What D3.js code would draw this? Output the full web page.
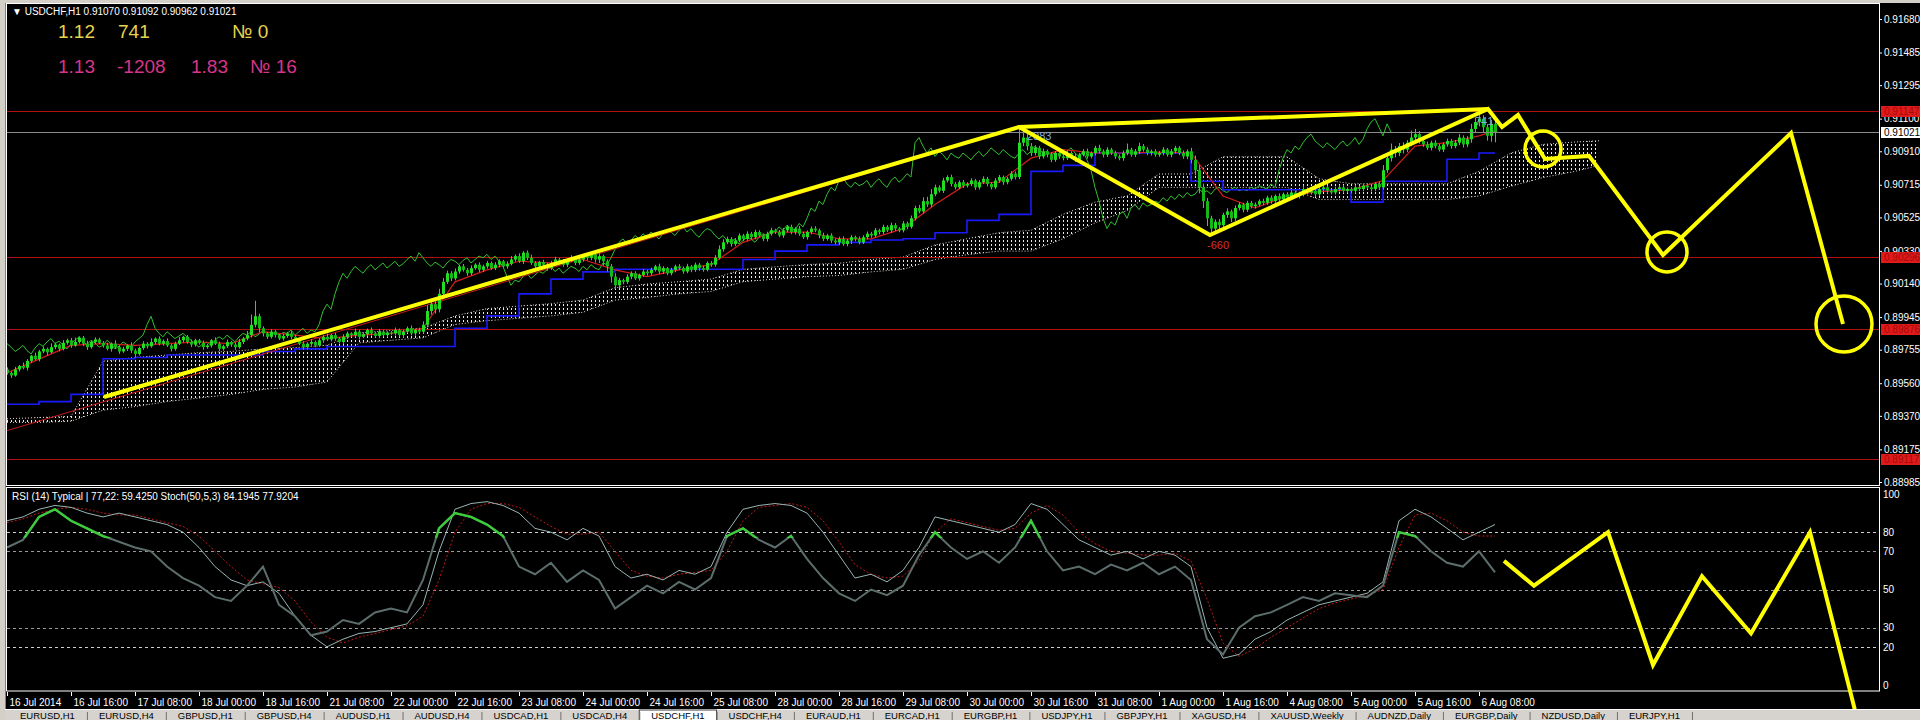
<!DOCTYPE html>
<html><head><meta charset="utf-8">
<script src="https://cdn.jsdelivr.net/npm/d3@7/dist/d3.min.js"></script>
<style>
html,body{margin:0;padding:0;background:#000;overflow:hidden}
svg{display:block}
text{font-family:"Liberation Sans",Arial,sans-serif}
</style></head><body>
<svg id="c" width="1920" height="720"></svg>
<script>
// ---------------- DATA ----------------
const symbolHeader = "\u25BC USDCHF,H1  0.91070 0.91092 0.90962 0.91021";
const rsiHeader = "RSI (14) Typical | 77,22: 59.4250  Stoch(50,5,3) 84.1945 77.9204";
const infoRow1 = [{t:"1.12",k:0},{t:"741",k:1},{t:"\u2116 0",k:3}];
const infoRow2 = [{t:"1.13",k:0},{t:"-1208",k:1},{t:"1.83",k:2},{t:"\u2116 16",k:3}];

const timeLabels = ["16 Jul 2014","16 Jul 16:00","17 Jul 08:00","18 Jul 00:00","18 Jul 16:00","21 Jul 08:00","22 Jul 00:00","22 Jul 16:00","23 Jul 08:00","24 Jul 00:00","24 Jul 16:00","25 Jul 08:00","28 Jul 00:00","28 Jul 16:00","29 Jul 08:00","30 Jul 00:00","30 Jul 16:00","31 Jul 08:00","1 Aug 00:00","1 Aug 16:00","4 Aug 08:00","5 Aug 00:00","5 Aug 16:00","6 Aug 08:00"];
const timeTickBars = [0,16,32,48,64,80,96,112,128,144,160,176,192,208,224,240,256,272,288,304,320,336,352,368];

const priceTicks = [91680,91485,91295,91100,90910,90715,90525,90330,90140,89945,89755,89560,89370,89175,88985];
const levelLines = [91147,90296,89876,89117];
const bidPrice = 91021;
const rsiTicks = [100,80,70,50,30,20,0];
const rsiLevels = [80,70,50,30,20];

const firstOpen = 89640;
const closes = [
89620,89605,89640,89660,89650,89690,89720,89700,89745,89760,89740,89770,89785,89760,89795,89810,89780,89800,89825,89790,89770,89800,89815,89795,
89780,89760,89790,89770,89745,89760,89780,89750,89730,89765,89790,89775,89800,89820,89790,89805,89780,89760,89790,89810,89830,89800,89785,89810,
89795,89770,89780,89810,89790,89760,89775,89800,89785,89770,89800,89820,89840,89900,89950,89880,89850,89830,89860,89840,89820,89835,89850,89830,
89810,89790,89770,89790,89800,89780,89810,89830,89815,89840,89820,89800,89830,89850,89840,89860,89830,89845,89870,89850,89835,89860,89840,89855,
89850,89870,89840,89860,89880,89850,89870,89860,89900,89980,90020,89990,90080,90150,90200,90170,90210,90240,90220,90200,90230,90250,90220,90240,
90260,90230,90250,90270,90240,90255,90280,90300,90270,90320,90290,90260,90240,90265,90250,90230,90260,90280,90270,90250,90275,90290,90260,90280,
90300,90290,90310,90280,90300,90270,90240,90180,90130,90160,90150,90180,90200,90170,90190,90210,90200,90220,90240,90210,90230,90200,90220,90240,
90230,90210,90240,90220,90250,90230,90220,90260,90250,90290,90340,90380,90400,90370,90390,90420,90400,90430,90410,90440,90420,90400,90430,90450,
90440,90420,90450,90470,90440,90460,90430,90410,90440,90460,90450,90420,90400,90420,90390,90380,90400,90370,90390,90410,90400,90380,90410,90430,
90420,90450,90440,90470,90450,90480,90460,90450,90490,90470,90520,90580,90560,90620,90600,90660,90700,90680,90740,90760,90720,90700,90730,90710,
90720,90740,90700,90730,90750,90720,90700,90740,90760,90730,90750,90780,90760,90960,90990,90940,90900,90930,90880,90910,90890,90860,90900,90880,
90870,90900,90880,90860,90890,90910,90880,90900,90930,90910,90890,90920,90900,90880,90870,90900,90920,90890,90910,90940,90920,90900,90910,90890,
90900,90920,90890,90910,90930,90900,90880,90910,90860,90800,90700,90620,90520,90460,90500,90480,90540,90560,90520,90580,90600,90570,90610,90590,
90600,90620,90610,90640,90620,90650,90630,90660,90640,90670,90650,90660,90690,90670,90680,90660,90690,90700,90680,90670,90690,90700,90680,90690,
90680,90700,90690,90710,90700,90690,90720,90700,90800,90870,90920,90900,90940,90920,90960,90990,91010,90970,90950,90930,90960,90940,90920,90950,
90970,90940,90960,90990,90950,90980,91040,91080,91100,91050,91000,91070,91021];
const wickUp = [
12,8,15,6,20,10,5,18,9,14,7,22,11,6,16,9,13,25,8,10,17,6,12,9,
10,15,7,20,9,12,6,18,11,8,14,9,21,7,13,10,16,8,12,19,6,11,15,9,
8,13,10,7,17,11,9,14,6,12,18,10,24,60,90,15,11,8,14,10,7,12,9,13,
11,7,14,9,16,8,12,10,19,6,13,9,15,11,7,18,10,12,8,14,9,16,11,7,
9,14,8,12,10,16,7,13,20,35,25,18,30,22,15,12,18,9,14,11,16,8,13,10,
12,9,15,11,8,14,20,10,16,9,13,18,11,7,14,10,12,16,9,13,8,15,10,12,
10,14,9,12,16,8,11,14,20,13,9,15,11,12,8,14,10,13,9,16,11,7,12,10,
13,9,15,8,12,10,14,9,11,16,22,18,13,10,15,12,9,14,11,13,10,8,12,15,
9,12,14,10,13,8,15,11,9,12,14,10,16,9,12,11,13,15,10,12,9,14,11,13,
11,14,9,13,10,15,12,9,14,11,16,13,18,22,25,30,16,12,15,10,14,12,11,13,
10,13,9,12,14,11,10,13,12,9,11,14,12,80,60,20,18,15,12,16,10,14,11,13,
12,15,10,14,11,13,16,9,12,18,11,14,10,13,12,15,35,11,13,20,12,14,10,12,
11,14,9,13,12,10,15,11,20,25,30,22,18,15,14,16,12,18,11,14,13,10,12,11,
12,10,14,11,13,9,15,10,12,14,11,13,20,10,12,14,11,13,10,12,14,11,13,10,
11,13,10,12,14,11,10,13,30,25,35,20,18,22,15,40,30,18,14,16,12,15,13,11,
14,12,16,20,13,18,30,25,30,20,18,22,22];
const wickDown = [
10,14,7,12,9,16,11,8,13,10,18,7,12,15,9,11,14,8,10,13,16,9,12,7,
13,9,16,10,14,8,12,15,20,9,11,13,8,14,10,12,9,15,11,8,13,10,14,12,
10,15,9,12,8,14,11,10,13,16,9,12,10,14,15,25,18,12,10,14,9,12,11,13,
12,9,14,10,13,11,8,15,10,12,14,9,11,13,10,12,15,8,11,14,10,13,9,12,
11,13,10,15,9,12,14,10,12,15,20,25,18,14,12,16,11,13,10,15,12,9,14,11,
13,10,12,15,11,14,9,12,10,16,13,11,14,10,12,15,11,13,9,12,14,10,13,11,
12,15,14,18,20,25,30,35,22,18,14,12,15,10,13,11,14,12,10,13,15,11,12,14,
11,13,10,14,12,15,11,9,13,12,10,14,11,15,12,10,13,11,14,12,10,13,15,11,
12,10,14,11,13,15,12,10,14,13,11,16,12,10,14,12,15,11,13,20,14,12,10,13,
13,11,14,12,10,15,13,11,12,14,10,13,11,12,14,15,12,10,13,11,14,12,10,13,
11,13,15,12,10,14,12,11,13,15,12,10,14,12,20,25,18,14,16,12,15,13,11,14,
13,11,14,12,15,10,13,11,14,12,16,13,11,14,12,15,13,11,14,16,12,13,15,12,
12,14,11,15,13,12,14,16,20,30,35,40,45,38,30,25,20,18,22,15,14,16,13,12,
13,11,14,12,15,10,13,11,14,12,10,15,13,11,12,14,10,13,15,11,12,14,13,11,
12,14,11,13,10,15,12,14,13,16,20,25,18,22,15,20,18,16,14,12,15,13,11,14,
13,15,12,14,18,16,20,22,25,30,28,35,59];

// Ichimoku lines (read every 8 bars)
const lineBars = [0,8,16,24,32,40,48,56,64,72,80,88,96,104,112,120,128,136,144,152,160,168,176,184,192,200,208,216,224,232,240,248,256,264,272,280,288,296,304,312,320,328,336,344,352,360,368,372];
const tenkan = [89620,89700,89780,89790,89780,89790,89800,89790,89860,89840,89820,89840,89850,89880,90150,90220,90270,90260,90280,90220,90180,90220,90250,90380,90440,90440,90400,90400,90460,90600,90720,90730,90870,90920,90900,90900,90905,90900,90650,90580,90650,90675,90685,90740,90940,90960,91000,91030];
const kijun = [89438,89453,89495,89702,89710,89724,89724,89724,89745,89760,89774,89774,89774,89774,89880,89952,90080,90166,90208,90223,90223,90223,90223,90280,90329,90365,90380,90394,90401,90436,90508,90543,90793,90828,90900,90900,90900,90736,90686,90686,90686,90686,90614,90736,90736,90864,90900,90900];
const spanBars = [0,8,16,24,32,40,48,56,64,72,80,88,96,104,112,120,128,136,144,152,160,168,176,184,192,200,208,216,224,232,240,248,256,264,272,280,288,296,304,312,320,328,336,344,352,360,368,376,384,392,398];
const senkouA = [89353,89360,89367,89688,89710,89724,89738,89745,89760,89767,89781,89852,89867,89880,89952,89994,90009,90023,90044,90116,90137,90151,90166,90223,90237,90251,90258,90280,90294,90365,90401,90436,90450,90543,90614,90650,90778,90778,90878,90878,90878,90750,90721,90721,90721,90721,90793,90900,90950,90964,90971];
const senkouB = [89332,89332,89339,89403,89424,89453,89474,89495,89524,89538,89567,89795,89810,89824,89902,89924,89938,89952,89973,90044,90059,90080,90094,90151,90166,90180,90187,90208,90223,90280,90308,90329,90329,90401,90493,90565,90700,90700,90700,90700,90700,90629,90629,90629,90629,90629,90650,90707,90757,90793,90828];
const chikouShift = 26;

// ZigZag
const zigzag = [{i:-2,p:89270},{i:253,p:91045,label:"2083"},{i:301,p:90422,label:"-660"},{i:368,p:91130,label:"741"}];

// RSI panel (read every 4 bars, bars 0..372)
const rsi = [72,76,88,92,86,82,78,75,72,70, 62,56,52,46,44,52,62,42,36,26, 28,34,32,38,40,38,55,82,90,88,
 84,78,62,58,64,54,60,55,40,46, 52,48,54,50,56,78,82,76,72,78, 66,56,48,44,50,47,52,68,80,72,
 66,70,64,72,86,70,60,62,58,63, 60,64,58,62,55,24,16,30,36,38, 42,46,44,48,47,46,52,80,78,70, 64,62,70,59];
const stochMain = [86,88,92,94,93,90,88,90,88,86, 84,80,72,62,55,52,54,48,36,26, 20,24,27,28,30,32,42,70,92,95,
 96,94,90,82,80,76,82,78,62,56, 58,55,60,58,62,80,92,94,95,94, 90,80,68,56,58,54,60,72,88,86,
 84,82,80,84,95,92,84,76,72,68, 70,66,70,68,62,30,14,16,24,28, 34,38,42,44,46,48,54,86,92,88, 82,76,80,84];
const stochSignal = [85,87,90,92,93,92,90,89,89,87, 85,83,78,70,62,55,53,51,44,33, 25,22,25,27,29,31,36,55,80,92,
 95,95,93,88,83,79,79,80,70,60, 57,56,58,59,60,70,86,93,94,95, 93,86,75,63,58,56,57,65,80,87,
 85,83,81,82,90,94,89,80,74,70, 69,68,68,69,65,45,22,15,19,25, 30,35,40,43,45,47,50,72,89,90, 86,80,78,78];
const rsiBars = d3.range(0, 373, 4);
const rsiHigh = 77;

// Hand-drawn yellow annotations (bar index, price / value)
const yellowMain = [
  [{i:24.25,p:89480},{i:253,p:91051},{i:370.25,p:91156}],
  [{i:253,p:91051},{i:300.75,p:90423},{i:370.25,p:91156},{i:373.75,p:91051},{i:377.75,p:91121},{i:384.5,p:90865},{i:395.5,p:90883},{i:414,p:90306},{i:446,p:91016},{i:459,p:89905}]
];
const yellowCircles = [{i:384,p:90923,r:18},{i:415,p:90324,r:20},{i:459.25,p:89905,r:28}];
const yellowRsi = [{i:374.25,v:65},{i:381.75,v:52},{i:400.25,v:80},{i:411.5,v:10.5},{i:423.75,v:57},{i:436,v:27},{i:450.75,v:80},{i:462.75,v:-19.5}];

const tabNames = ["EURUSD,H1","EURUSD,H4","GBPUSD,H1","GBPUSD,H4","AUDUSD,H1","AUDUSD,H4","USDCAD,H1","USDCAD,H4","USDCHF,H1","USDCHF,H4","EURAUD,H1","EURCAD,H1","EURGBP,H1","USDJPY,H1","GBPJPY,H1","XAGUSD,H4","XAUUSD,Weekly","AUDNZD,Daily","EURGBP,Daily","NZDUSD,Daily","EURJPY,H1"];
const activeTab = "USDCHF,H1";

// ---------------- DRAW ----------------
const svg = d3.select("#c");
const W = 1920, H = 720;
const P = {l:7, r:1879, t:4, mainB:485, rsiT:489, rsiB:691};
const x = d3.scaleLinear().domain([0,468]).range([7,1879]);
const y = d3.scaleLinear().domain([88985,91680]).range([482,19]);
const yr = d3.scaleLinear().domain([0,100]).range([685,494]);
const fmtP = d => (d/100000).toFixed(5);

svg.append("rect").attr("width",W).attr("height",H).attr("fill","#000");

const defs = svg.append("defs");
defs.append("clipPath").attr("id","cpMain").append("rect").attr("x",P.l).attr("y",P.t).attr("width",P.r-P.l).attr("height",P.mainB-P.t);
defs.append("clipPath").attr("id","cpRsi").append("rect").attr("x",P.l).attr("y",P.rsiT).attr("width",P.r-P.l).attr("height",P.rsiB-P.rsiT);
defs.append("clipPath").attr("id","cpRsiHigh").append("rect").attr("x",P.l).attr("y",P.rsiT).attr("width",P.r-P.l).attr("height",yr(rsiHigh)-P.rsiT);
const pat = defs.append("pattern").attr("id","kumo").attr("patternUnits","userSpaceOnUse").attr("width",4).attr("height",4);
pat.append("rect").attr("x",3).attr("y",0).attr("width",1).attr("height",2).attr("fill","#f2e6de");

// ---- main panel ----
const gm = svg.append("g").attr("clip-path","url(#cpMain)");

// cloud
const spanData = spanBars.map((b,k)=>({i:b,a:senkouA[k],b:senkouB[k]}));
gm.append("path").datum(spanData)
  .attr("d", d3.area().x(d=>x(d.i)).y0(d=>y(d.a)).y1(d=>y(d.b)))
  .attr("fill","url(#kumo)");
["a","b"].forEach(key=>{
  gm.append("path").datum(spanData)
    .attr("d", d3.line().x(d=>x(d.i)).y(d=>y(d[key])))
    .attr("fill","none").attr("stroke","#e8d8d0").attr("stroke-width",1).attr("stroke-dasharray","1,2");
});

// horizontal level lines
gm.selectAll(".lvl").data(levelLines).join("line")
  .attr("x1",P.l).attr("x2",P.r).attr("y1",d=>Math.round(y(d))+0.5).attr("y2",d=>Math.round(y(d))+0.5)
  .attr("stroke","#b01010").attr("stroke-width",1);

// chikou
gm.append("path").datum(closes)
  .attr("d", d3.line().x((d,i)=>x(i-chikouShift)).y(d=>y(d)))
  .attr("fill","none").attr("stroke","#30c030").attr("stroke-width",1);

// kijun
gm.append("path").datum(lineBars.map((b,k)=>({i:b,v:kijun[k]})))
  .attr("d", d3.line().x(d=>x(d.i)).y(d=>y(d.v)).curve(d3.curveStepAfter))
  .attr("fill","none").attr("stroke","#1a1aff").attr("stroke-width",1.6);
// tenkan
gm.append("path").datum(lineBars.map((b,k)=>({i:b,v:tenkan[k]})))
  .attr("d", d3.line().x(d=>x(d.i)).y(d=>y(d.v)))
  .attr("fill","none").attr("stroke","#d41c1c").attr("stroke-width",1.2);

// zigzag
gm.append("path").datum(zigzag)
  .attr("d", d3.line().x(d=>x(d.i)).y(d=>y(d.p)))
  .attr("fill","none").attr("stroke","#c81818").attr("stroke-width",1);

// candles
const bars = closes.map((c,i)=>{
  const o = i ? closes[i-1] : firstOpen;
  return {i, o, c, h: Math.max(o,c)+wickUp[i], l: Math.min(o,c)-wickDown[i]};
});
const gc = gm.append("g");
gc.selectAll(".wk").data(bars).join("line")
  .attr("x1",d=>x(d.i)+0.5).attr("x2",d=>x(d.i)+0.5)
  .attr("y1",d=>y(d.h)).attr("y2",d=>y(d.l))
  .attr("stroke","#22dd22").attr("stroke-width",1);
gc.selectAll(".bd").data(bars).join("rect")
  .attr("x",d=>x(d.i)-1).attr("width",3)
  .attr("y",d=>y(Math.max(d.o,d.c)))
  .attr("height",d=>Math.max(1, Math.abs(y(d.o)-y(d.c))))
  .attr("fill",d=>d.c>=d.o ? "#22dd22" : "#15b815");

// bid line
gm.append("line").attr("x1",P.l).attr("x2",P.r).attr("y1",Math.round(y(bidPrice))+0.5).attr("y2",Math.round(y(bidPrice))+0.5)
  .attr("stroke","#8a8a8a").attr("stroke-width",1);

// zigzag labels
svg.selectAll(".zl").data(zigzag.filter(d=>d.label)).join("text")
  .attr("x",d=>x(d.i)+ (d.label==="741"?-4:(d.label==="-660"?-4:8)))
  .attr("y",d=>y(d.p)+ (d.label==="-660"?14:12))
  .attr("font-size",11)
  .attr("fill",d=>d.label.startsWith("-") ? "#d83030" : "#7fb0e0")
  .text(d=>d.label);

// ---- RSI panel ----
const gr = svg.append("g").attr("clip-path","url(#cpRsi)");
gr.selectAll(".rl").data(rsiLevels).join("line")
  .attr("x1",P.l).attr("x2",P.r).attr("y1",d=>Math.round(yr(d))+0.5).attr("y2",d=>Math.round(yr(d))+0.5)
  .attr("stroke",d=>(d===80||d===20)?"#d0d0d0":"#9a9a9a").attr("stroke-width",1).attr("stroke-dasharray","3,3");
const rl = d3.line().x(d=>x(d.i)).y(d=>yr(d.v));
const toPts = arr => rsiBars.map((b,k)=>({i:b,v:arr[k]}));
gr.append("path").datum(toPts(stochSignal)).attr("d",rl).attr("fill","none").attr("stroke","#c01818").attr("stroke-width",1).attr("stroke-dasharray","2,2");
gr.append("path").datum(toPts(stochMain)).attr("d",rl).attr("fill","none").attr("stroke","#98b4b4").attr("stroke-width",1);
gr.append("path").datum(toPts(rsi)).attr("d",rl).attr("fill","none").attr("stroke","#5c6e6c").attr("stroke-width",2);
svg.append("g").attr("clip-path","url(#cpRsiHigh)")
  .append("path").datum(toPts(rsi)).attr("d",rl).attr("fill","none").attr("stroke","#3ccc3c").attr("stroke-width",2.4);

// ---- frames ----
svg.append("rect").attr("x",0).attr("y",0).attr("width",W).attr("height",3).attr("fill","#d4d0c8");
svg.append("rect").attr("x",0).attr("y",0).attr("width",5).attr("height",H).attr("fill","#d4d0c8");
svg.append("line").attr("x1",5.5).attr("x2",5.5).attr("y1",3).attr("y2",H).attr("stroke","#808080");
svg.append("rect").attr("x",P.l-0.5).attr("y",P.t-0.5).attr("width",P.r-P.l+1).attr("height",P.mainB-P.t+1).attr("fill","none").attr("stroke","#ffffff");
svg.append("rect").attr("x",P.l-0.5).attr("y",P.rsiT-1.5).attr("width",P.r-P.l+1).attr("height",P.rsiB-P.rsiT+1.5).attr("fill","none").attr("stroke","#ffffff");

// ---- yellow annotations (drawn over everything) ----
const gy = svg.append("g");
const ly = d3.line().x(d=>x(d.i)).y(d=>y(d.p));
yellowMain.forEach(seg=>{
  gy.append("path").datum(seg).attr("d",ly).attr("fill","none").attr("stroke","#ffff00").attr("stroke-width",4).attr("stroke-linejoin","miter");
});
gy.selectAll(".yc").data(yellowCircles).join("circle")
  .attr("cx",d=>x(d.i)).attr("cy",d=>y(d.p)).attr("r",d=>d.r)
  .attr("fill","none").attr("stroke","#ffff00").attr("stroke-width",3.5);
gy.append("path").datum(yellowRsi).attr("d",d3.line().x(d=>x(d.i)).y(d=>yr(d.v)))
  .attr("fill","none").attr("stroke","#ffff00").attr("stroke-width",4);

// ---- price axis ----
const axP = svg.append("g").attr("transform",`translate(${P.r},0)`)
  .call(d3.axisRight(y).tickValues(priceTicks).tickFormat(fmtP).tickSize(3).tickPadding(2));
axP.select(".domain").remove();
axP.selectAll("line").attr("stroke","#fff");
axP.selectAll("text").attr("fill","#fff").attr("font-size",10).attr("font-family","Liberation Sans, Arial, sans-serif");

const boxes = levelLines.map(p=>({p,bg:"#e01a1a",fg:"#a00c0c"})).concat([{p:bidPrice,bg:"#ffffff",fg:"#000000"}]);
const gb = svg.append("g");
gb.selectAll("rect").data(boxes).join("rect")
  .attr("x",P.r+2).attr("y",d=>Math.round(y(d.p))-5).attr("width",W-P.r-2).attr("height",11)
  .attr("fill",d=>d.bg);
gb.selectAll("text").data(boxes).join("text")
  .attr("x",P.r+5).attr("y",d=>Math.round(y(d.p))+4)
  .attr("font-size",10).attr("fill",d=>d.fg).text(d=>fmtP(d.p));

// ---- RSI axis ----
const axR = svg.append("g").attr("transform",`translate(${P.r},0)`)
  .call(d3.axisRight(yr).tickValues(rsiTicks).tickFormat(d3.format("d")).tickSize(0).tickPadding(4));
axR.select(".domain").remove();
axR.selectAll("text").attr("fill","#fff").attr("font-size",10).attr("font-family","Liberation Sans, Arial, sans-serif");

// ---- time axis ----
const axT = svg.append("g").attr("transform",`translate(0,${P.rsiB+1})`)
  .call(d3.axisBottom(x).tickValues(timeTickBars).tickFormat((d,k)=>timeLabels[k]).tickSize(4).tickPadding(3));
axT.select(".domain").remove();
axT.selectAll("line").attr("stroke","#fff");
axT.selectAll("text").attr("fill","#fff").attr("font-size",10).attr("text-anchor","start").attr("dx",2)
  .attr("font-family","Liberation Sans, Arial, sans-serif");

// ---- headers ----
svg.append("text").attr("x",12).attr("y",15).attr("font-size",10).attr("fill","#fff").text(symbolHeader);
const infoX = [58,118,191,232];
const infoX2 = [58,117,191,250];
svg.selectAll(".i1").data(infoRow1).join("text").attr("x",d=>infoX[d.k]).attr("y",38)
  .attr("font-size",19).attr("fill","#e6d34e").text(d=>d.t);
svg.selectAll(".i2").data(infoRow2).join("text").attr("x",d=>infoX2[d.k]).attr("y",73)
  .attr("font-size",19).attr("fill","#d8358a").text(d=>d.t);
svg.append("text").attr("x",12).attr("y",500).attr("font-size",10).attr("fill","#fff").text(rsiHeader);

// ---- tabs ----
svg.append("rect").attr("x",5).attr("y",710).attr("width",W).attr("height",10).attr("fill","#d6d3ce");
svg.append("line").attr("x1",5).attr("x2",W).attr("y1",709.5).attr("y2",709.5).attr("stroke","#ffffff");
const gt = svg.append("g");
let tx = 8;
tabNames.forEach(name=>{
  const t = gt.append("text").attr("y",718.5).attr("font-size",9.5).attr("fill","#000").text(name);
  const w = t.node().getComputedTextLength() + 24;
  if (name===activeTab){
    gt.insert("rect","text").attr("x",tx).attr("y",710).attr("width",w).attr("height",12).attr("fill","#ffffff").attr("stroke","#404040");
  }
  t.attr("x", tx + (w - t.node().getComputedTextLength())/2);
  tx += w;
  gt.append("line").attr("x1",tx+0.5).attr("x2",tx+0.5).attr("y1",712).attr("y2",720).attr("stroke","#707070");
});
</script></body></html>
